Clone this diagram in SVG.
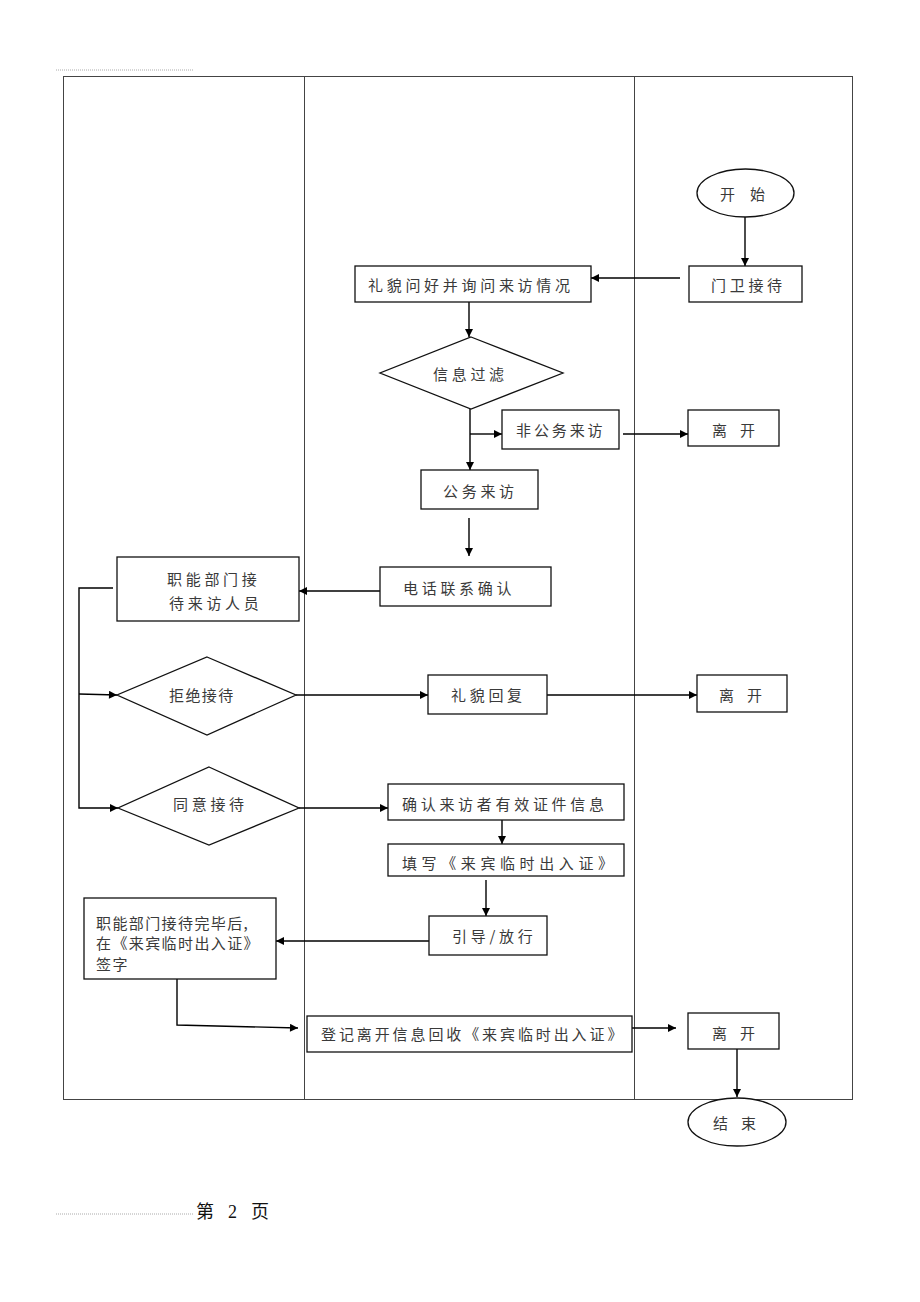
<svg xmlns="http://www.w3.org/2000/svg" width="920" height="1302" viewBox="0 0 920 1302">
<style>
.frame{fill:none;stroke:#444;stroke-width:1}
.box{fill:#fff;stroke:#111;stroke-width:1.3}
.t{font-family:"Noto Sans CJK SC","Noto Sans",sans-serif;font-size:15px;fill:#3a3a3a;letter-spacing:3.7px;dominant-baseline:central}
.t2{letter-spacing:1.4px}
.t3{letter-spacing:2.9px}
.t4{letter-spacing:4.6px}
.c{fill:none;stroke:#000;stroke-width:1.4}
.dot{stroke:#aaa;stroke-width:1;stroke-dasharray:1 1}
.foot{font-family:"Liberation Serif","Noto Sans CJK SC",serif;font-size:18px;fill:#111}
</style>
<defs>
<marker id="ah" viewBox="0 0 10 10" refX="10" refY="5" markerWidth="9" markerHeight="8" orient="auto" markerUnits="userSpaceOnUse">
<path d="M0,0 L10,5 L0,10 z" fill="#000"/>
</marker>
</defs>
<rect width="920" height="1302" fill="#fff"/>
<g id="page">
<line class="dot" x1="56" y1="70" x2="194" y2="70"/>
<line class="dot" x1="56" y1="1214" x2="194" y2="1214"/>
<text class="foot" x="196 214 228 237 251" y="1218">第 2 页</text>
</g>
<g id="lanes">
<rect class="frame" x="63.5" y="76.5" width="789" height="1023"/>
<line class="frame" x1="304.5" y1="76" x2="304.5" y2="1099"/>
<line class="frame" x1="634.5" y1="76" x2="634.5" y2="1099"/>
</g>
<g id="connectors">
<line class="c" x1="745" y1="217" x2="745" y2="266" marker-end="url(#ah)"/>
<line class="c" x1="680" y1="278" x2="591" y2="278" marker-end="url(#ah)"/>
<line class="c" x1="469" y1="302" x2="469" y2="337" marker-end="url(#ah)"/>
<line class="c" x1="470" y1="409" x2="470" y2="470" marker-end="url(#ah)"/>
<line class="c" x1="470" y1="434" x2="502" y2="434" marker-end="url(#ah)"/>
<line class="c" x1="623" y1="434" x2="688" y2="434" marker-end="url(#ah)"/>
<line class="c" x1="469" y1="518" x2="469" y2="556" marker-end="url(#ah)"/>
<line class="c" x1="380" y1="591" x2="299" y2="591" marker-end="url(#ah)"/>
<polyline class="c" points="113,588 79,588 79,808 118,808" marker-end="url(#ah)"/>
<line class="c" x1="79" y1="694" x2="117" y2="695" marker-end="url(#ah)"/>
<line class="c" x1="296" y1="695" x2="428" y2="695" marker-end="url(#ah)"/>
<line class="c" x1="547" y1="695" x2="697" y2="695" marker-end="url(#ah)"/>
<line class="c" x1="299" y1="808" x2="388" y2="808" marker-end="url(#ah)"/>
<line class="c" x1="502" y1="820" x2="502" y2="844" marker-end="url(#ah)"/>
<line class="c" x1="486" y1="880" x2="486" y2="916" marker-end="url(#ah)"/>
<line class="c" x1="429" y1="941" x2="276" y2="941" marker-end="url(#ah)"/>
<polyline class="c" points="177,979 177,1025 298,1028" marker-end="url(#ah)"/>
<line class="c" x1="632" y1="1028" x2="676" y2="1028" marker-end="url(#ah)"/>
<line class="c" x1="737" y1="1049" x2="737" y2="1097" marker-end="url(#ah)"/>
</g>
<g id="start">
<ellipse class="box" cx="745.5" cy="193" rx="48.5" ry="24"/>
<text class="t" x="720 735 750" y="193">开 始</text>
</g>
<g id="guard">
<rect class="box" x="689" y="266" width="113" height="36"/>
<text class="t" x="711" y="284">门卫接待</text>
</g>
<g id="greet">
<rect class="box" x="355" y="266" width="236" height="36"/>
<text class="t" x="368" y="284">礼貌问好并询问来访情况</text>
</g>
<g id="filter">
<polygon class="box" points="471,337 563,373 471,409 380,373"/>
<text class="t" x="433" y="373">信息过滤</text>
</g>
<g id="nonofficial">
<rect class="box" x="502" y="410" width="117" height="39"/>
<text class="t t3" x="516" y="429">非公务来访</text>
</g>
<g id="leave1">
<rect class="box" x="688" y="410" width="91" height="36"/>
<text class="t" x="712 727 740" y="429">离 开</text>
</g>
<g id="official">
<rect class="box" x="421" y="470" width="117" height="39"/>
<text class="t" x="443" y="490">公务来访</text>
</g>
<g id="phone">
<rect class="box" x="380" y="567" width="171" height="39"/>
<text class="t" x="403" y="587">电话联系确认</text>
</g>
<g id="dept">
<rect class="box" x="117" y="557" width="182" height="64"/>
<text class="t" x="167" y="578">职能部门接</text>
<text class="t" x="169" y="602">待来访人员</text>
</g>
<g id="refuse">
<polygon class="box" points="207,657 296,695 207,735 117,695"/>
<text class="t t2" x="169" y="694">拒绝接待</text>
</g>
<g id="reply">
<rect class="box" x="428" y="675" width="119" height="39"/>
<text class="t" x="451" y="694">礼貌回复</text>
</g>
<g id="leave2">
<rect class="box" x="697" y="675" width="90" height="37"/>
<text class="t" x="719 734 747" y="694">离 开</text>
</g>
<g id="agree">
<polygon class="box" points="209,767 299,808 209,845 118,808"/>
<text class="t" x="173" y="803">同意接待</text>
</g>
<g id="verify">
<rect class="box" x="388" y="784" width="236" height="36"/>
<text class="t" x="402" y="803">确认来访者有效证件信息</text>
</g>
<g id="fill">
<rect class="box" x="388" y="844" width="236" height="32"/>
<text class="t t4" x="402" y="862">填写《来宾临时出入证》</text>
</g>
<g id="guide">
<rect class="box" x="429" y="916" width="118" height="39"/>
<text class="t" x="452" y="935">引导/放行</text>
</g>
<g id="sign">
<rect class="box" x="84" y="898" width="192" height="81"/>
<text class="t t2" x="96" y="922">职能部门接待完毕后,</text>
<text class="t t2" x="96" y="942">在《来宾临时出入证》</text>
<text class="t t2" x="96" y="963">签字</text>
</g>
<g id="register">
<rect class="box" x="307" y="1016" width="325" height="36"/>
<text class="t t3" x="321" y="1033">登记离开信息回收《来宾临时出入证》</text>
</g>
<g id="leave3">
<rect class="box" x="688" y="1013" width="91" height="36"/>
<text class="t" x="712 727 740" y="1032">离 开</text>
</g>
<g id="end">
<ellipse class="box" cx="737" cy="1122" rx="49" ry="24"/>
<text class="t" x="713 728 741" y="1122">结 束</text>
</g>
</svg>
